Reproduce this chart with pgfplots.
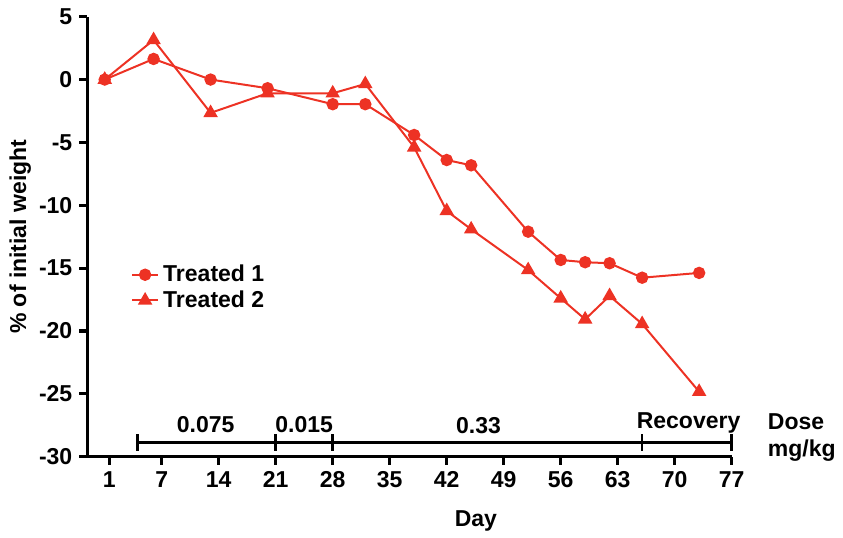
\documentclass[border=0pt]{standalone}
\usepackage{fontspec}
\setmainfont{Liberation Sans}
\usepackage{pgfplots}
\pgfplotsset{compat=1.18}
\definecolor{lr}{RGB}{237,50,36}
\newcommand\ff{\fontsize{11.5}{13.5}\selectfont\bfseries}
\pgfplotstableread{
day w
0 0
6 1.64
13 0
20 -0.69
28 -1.96
32 -1.96
38 -4.41
42 -6.40
45 -6.82
52 -12.10
56 -14.35
59 -14.53
62 -14.61
66 -15.76
73 -15.38
}\treatedA
\pgfplotstableread{
day w
0 0
6 3.15
13 -2.65
20 -1.09
28 -1.09
32 -0.35
38 -5.39
42 -10.45
45 -11.91
52 -15.15
56 -17.40
59 -19.07
62 -17.21
66 -19.44
73 -24.83
}\treatedB
\begin{document}
\begin{tikzpicture}
\begin{axis}[
  scale only axis, width=322.2pt, height=220pt,
  xmin=-2.14, xmax=77, ymin=-30, ymax=5,
  clip=false,
  axis x line=bottom, axis y line=left,
  axis line style={line width=1.6pt,-,black},
  xtick={0.55,7,14,21,28,35,42,49,56,63,70,77},
  xticklabels={1,7,14,21,28,35,42,49,56,63,70,77},
  ytick={-30,-25,-20,-15,-10,-5,0,5},
  yticklabels={-30,-25,-20,-15,-10,-5,0,5},
  tick align=outside, major tick length=4pt,
  tick style={line width=1.6pt,black},
  ticklabel style={font=\ff},
  xlabel={Day}, ylabel={\% of initial weight},
  label style={font=\ff},
  xlabel style={at={(rel axis cs:0.603,-0.146)},anchor=center},
  ylabel style={at={(rel axis cs:-0.104,0.5)},anchor=center},
  legend style={draw=none,fill=none,font=\ff,at={(rel axis cs:0.061,0.455)},anchor=north west,row sep=-1pt,inner sep=2pt},
  legend cell align=left,
  legend image code/.code={\draw[mark repeat=2,mark phase=2] plot coordinates {(0cm,0cm)(0.23cm,0cm)(0.46cm,0cm)};},
]
\addplot[lr, line width=1pt, mark=*, mark size=2.6pt, mark options={solid,fill=lr,draw=lr}] table[x=day,y=w] {\treatedA};
\addlegendentry{Treated 1}
\addplot[lr, line width=1pt, mark=triangle*, mark size=3.2pt, mark options={solid,fill=lr,draw=lr}] table[x=day,y=w] {\treatedB};
\addlegendentry{Treated 2}
% dose bar annotation
\draw[line width=1.3pt] (axis cs:4,-28.85) -- (axis cs:77,-28.85);
\draw[line width=1.3pt] ([yshift=-4.25pt]axis cs:4,-28.85) -- ([yshift=4.25pt]axis cs:4,-28.85);
\draw[line width=1.3pt] ([yshift=-4.25pt]axis cs:21,-28.85) -- ([yshift=4.25pt]axis cs:21,-28.85);
\draw[line width=1.3pt] ([yshift=-4.25pt]axis cs:28,-28.85) -- ([yshift=4.25pt]axis cs:28,-28.85);
\draw[line width=1.3pt] ([yshift=-4.25pt]axis cs:66,-28.85) -- ([yshift=4.25pt]axis cs:66,-28.85);
\draw[line width=1.3pt] ([yshift=-4.25pt]axis cs:77,-28.85) -- ([yshift=4.25pt]axis cs:77,-28.85);
\node[font=\ff] at (axis cs:12.4,-27.45) {0.075};
\node[font=\ff] at (axis cs:24.5,-27.45) {0.015};
\node[font=\ff] at (axis cs:45.9,-27.55) {0.33};
\node[font=\ff] at (axis cs:71.7,-27.3) {Recovery};
\node[font=\ff,align=left,anchor=west,inner sep=0pt] at (axis cs:81.4,-28.45) {Dose\\mg/kg};
\path (rel axis cs:-0.1355,-0.1825) rectangle (rel axis cs:1.1727,1.038);
\end{axis}
\end{tikzpicture}
\end{document}
